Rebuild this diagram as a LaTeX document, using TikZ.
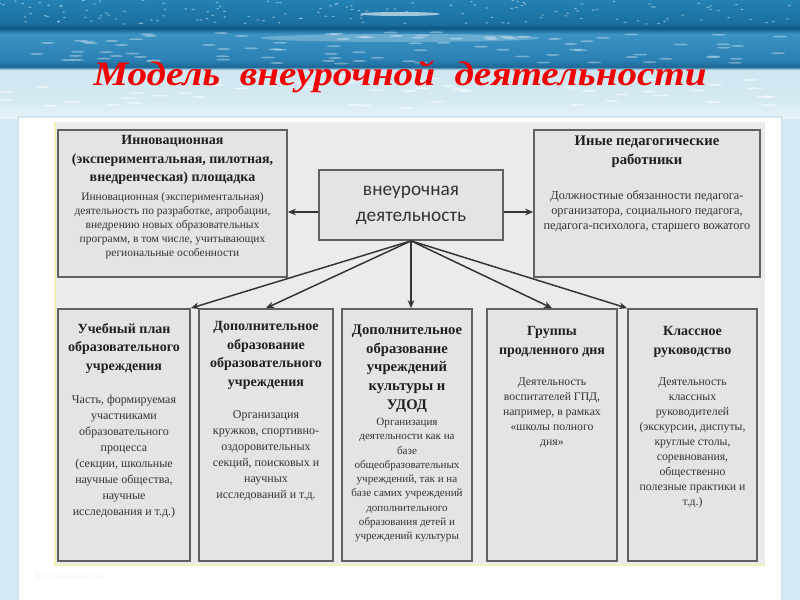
\documentclass[tikz,border=0pt]{standalone}
\usepackage{fontspec}
\usepackage{graphicx}
\setmainfont{Liberation Serif}
\newfontfamily\cfont{Carlito}
\usetikzlibrary{arrows.meta,calc}
\definecolor{boxfill}{HTML}{E4E4E4}
\definecolor{areafill}{HTML}{EBEBEB}
\definecolor{skyA}{HTML}{2282B3}
\definecolor{skyB}{HTML}{1A6F9F}
\definecolor{skyC}{HTML}{0E5783}
\definecolor{skyD}{HTML}{3B93C3}
\definecolor{skyE}{HTML}{2A80B2}
\definecolor{skyF}{HTML}{1D6A99}
\definecolor{skyG}{HTML}{CFE6F0}
\definecolor{skyH}{HTML}{D5E9F2}
\definecolor{skyI}{HTML}{E6F2F8}
\definecolor{skyJ}{HTML}{D8ECF5}
\definecolor{sideblue}{HTML}{D6EAF5}
\definecolor{panelline}{HTML}{CDE3EE}
\definecolor{paleyellow}{HTML}{F4EFB4}
\definecolor{titlered}{HTML}{F00000}
\begin{document}
\begin{tikzpicture}[x=0.75pt,y=-0.75pt,
  box/.style={draw=black!62, line width=1.3pt, fill=boxfill, inner sep=0pt},
  ttl/.style={font=\fontsize{10.5}{14}\selectfont\bfseries, align=center, inner sep=0pt, anchor=north, text=black!88},
  bdy/.style={font=\fontsize{9}{12}\selectfont, align=center, inner sep=0pt, anchor=north, text=black!80},
  arr/.style={draw=black!80, line width=1.1pt, -{Stealth[length=6pt,width=5pt]}}]
\useasboundingbox (0,0) rectangle (800,600);
% background
\fill[sideblue] (0,0) rectangle (800,600);
\shade[top color=skyA, bottom color=skyB] (0,0) rectangle (800,24);
\shade[top color=skyB, bottom color=skyC] (0,24) rectangle (800,28);
\shade[top color=skyC, bottom color=skyD] (0,28) rectangle (800,34);
\shade[top color=skyD, bottom color=skyE] (0,34) rectangle (800,60);
\shade[top color=skyE, bottom color=skyF] (0,60) rectangle (800,67);
\shade[top color=skyF, bottom color=skyJ] (0,67) rectangle (800,70);
\shade[top color=skyG, bottom color=skyH] (0,70) rectangle (800,100);
\shade[top color=skyH, bottom color=skyI] (0,100) rectangle (800,118);
\pgfmathsetseed{7}
\foreach \i in {1,...,140}{
  \pgfmathsetmacro\sx{rnd*800}
  \pgfmathsetmacro\sy{rnd*24}
  \fill[white,opacity=0.45] (\sx,\sy) ellipse (1.6 and 0.7);
}
\foreach \i in {1,...,90}{
  \pgfmathsetmacro\sx{rnd*800}
  \pgfmathsetmacro\sy{32+rnd*32}
  \fill[white,opacity=0.35] (\sx,\sy) ellipse (7 and 0.9);
}
\foreach \i in {1,...,60}{
  \pgfmathsetmacro\sx{rnd*800}
  \pgfmathsetmacro\sy{74+rnd*36}
  \fill[white,opacity=0.5] (\sx,\sy) ellipse (8 and 0.9);
}
\fill[white,opacity=0.6] (400,14) ellipse (40 and 2);
\fill[white,opacity=0.25] (400,38) ellipse (140 and 4);
% panel
\fill[white, draw=panelline, line width=0.8pt] (18,117) rectangle (782,602);
\fill[areafill] (55,122) rectangle (765,564);
\draw[paleyellow, line width=1pt] (55,122) -- (55,565) -- (765,565);
% title
\node[inner sep=0pt, text=titlered] (title) at (400,77)
  {\resizebox*{460pt}{24pt}{\bfseries\itshape Модель\ \ внеурочной\ \ деятельности}};
% boxes
\node[box, minimum width=171.75pt, minimum height=110.25pt] (tl) at (172.5,203.5) {};
\node[box, minimum width=169.5pt, minimum height=110.25pt] (tr) at (647,203.5) {};
\node[box, minimum width=138pt, minimum height=52.5pt] (c) at (411,205) {};
\node[box, minimum width=99pt, minimum height=189pt] (b1) at (124,435) {};
\node[box, minimum width=100.5pt, minimum height=189pt] (b2) at (266,435) {};
\node[box, minimum width=97.5pt, minimum height=189pt] (b3) at (407,435) {};
\node[box, minimum width=97.5pt, minimum height=189pt] (b4) at (552,435) {};
\node[box, minimum width=96.75pt, minimum height=189pt] (b5) at (692.5,435) {};
% center text
\node[font=\cfont\fontsize{14.5}{19.5}\selectfont, align=center, text=black!80, inner sep=0pt] (ct) at (411,205) {внеурочная\\деятельность};
% texts
\node[ttl] (tlt) at (172.5,135) {Инновационная\\(экспериментальная, пилотная,\\внедренческая) площадка};
\node[bdy, font=\fontsize{8.6}{10.5}\selectfont] (tlb) at (172.5,192) {Инновационная (экспериментальная)\\деятельность по разработке, апробации,\\внедрению новых образовательных\\программ, в том числе, учитывающих\\региональные особенности};
\node[ttl, font=\fontsize{11}{14.25}\selectfont\bfseries] (trt) at (647,136) {Иные педагогические\\работники};
\node[bdy, font=\fontsize{9.2}{11.6}\selectfont] (trb) at (647,190) {Должностные обязанности педагога-\\организатора, социального педагога,\\педагога-психолога, старшего вожатого};
\node[ttl] (b1t) at (124,323) {Учебный план\\образовательного\\учреждения};
\node[bdy] (b1b) at (124,395) {Часть, формируемая\\участниками\\образовательного\\процесса\\(секции, школьные\\научные общества,\\научные\\исследования и т.д.)};
\node[ttl] (b2t) at (266,321) {Дополнительное\\образование\\образовательного\\учреждения};
\node[bdy] (b2b) at (266,410) {Организация\\кружков, спортивно-\\оздоровительных\\секций, поисковых и\\научных\\исследований и т.д.};
\node[ttl, font=\fontsize{11}{13.9}\selectfont\bfseries] (b3t) at (407,325) {Дополнительное\\образование\\учреждений\\культуры и\\УДОД};
\node[bdy, font=\fontsize{8.3}{10.7}\selectfont] (b3b) at (407,418) {Организация\\деятельности как на\\базе\\общеобразовательных\\учреждений, так и на\\базе самих учреждений\\дополнительного\\образования детей и\\учреждений культуры};
\node[ttl] (b4t) at (552,326) {Группы\\продленного дня};
\node[bdy, font=\fontsize{8.8}{11.25}\selectfont] (b4b) at (552,378) {Деятельность\\воспитателей ГПД,\\например, в рамках\\«школы полного\\дня»};
\node[ttl] (b5t) at (692.5,326) {Классное\\руководство};
\node[bdy, font=\fontsize{8.8}{11.25}\selectfont] (b5b) at (692.5,378) {Деятельность\\классных\\руководителей\\(экскурсии, диспуты,\\круглые столы,\\соревнования,\\общественно\\полезные практики и\\т.д.)};
% watermark
\node[font=\fontsize{7}{8}\selectfont, text=black!6, anchor=west, inner sep=0pt] (wm) at (35,576) {http://aida.ucoz.ru};
% arrows
\coordinate (ay) at (0,212);
\draw[arr] (c.west |- ay) -- (tl.east |- ay);
\draw[arr] (c.east |- ay) -- (tr.west |- ay);
\draw[arr] (c.south) -- (b1.north east);
\draw[arr] (c.south) -- (b2.north);
\draw[arr] (c.south) -- (c.south |- b3.north);
\draw[arr] (c.south) -- (b4.north);
\draw[arr] (c.south) -- (b5.north west);
\end{tikzpicture}
\end{document}
